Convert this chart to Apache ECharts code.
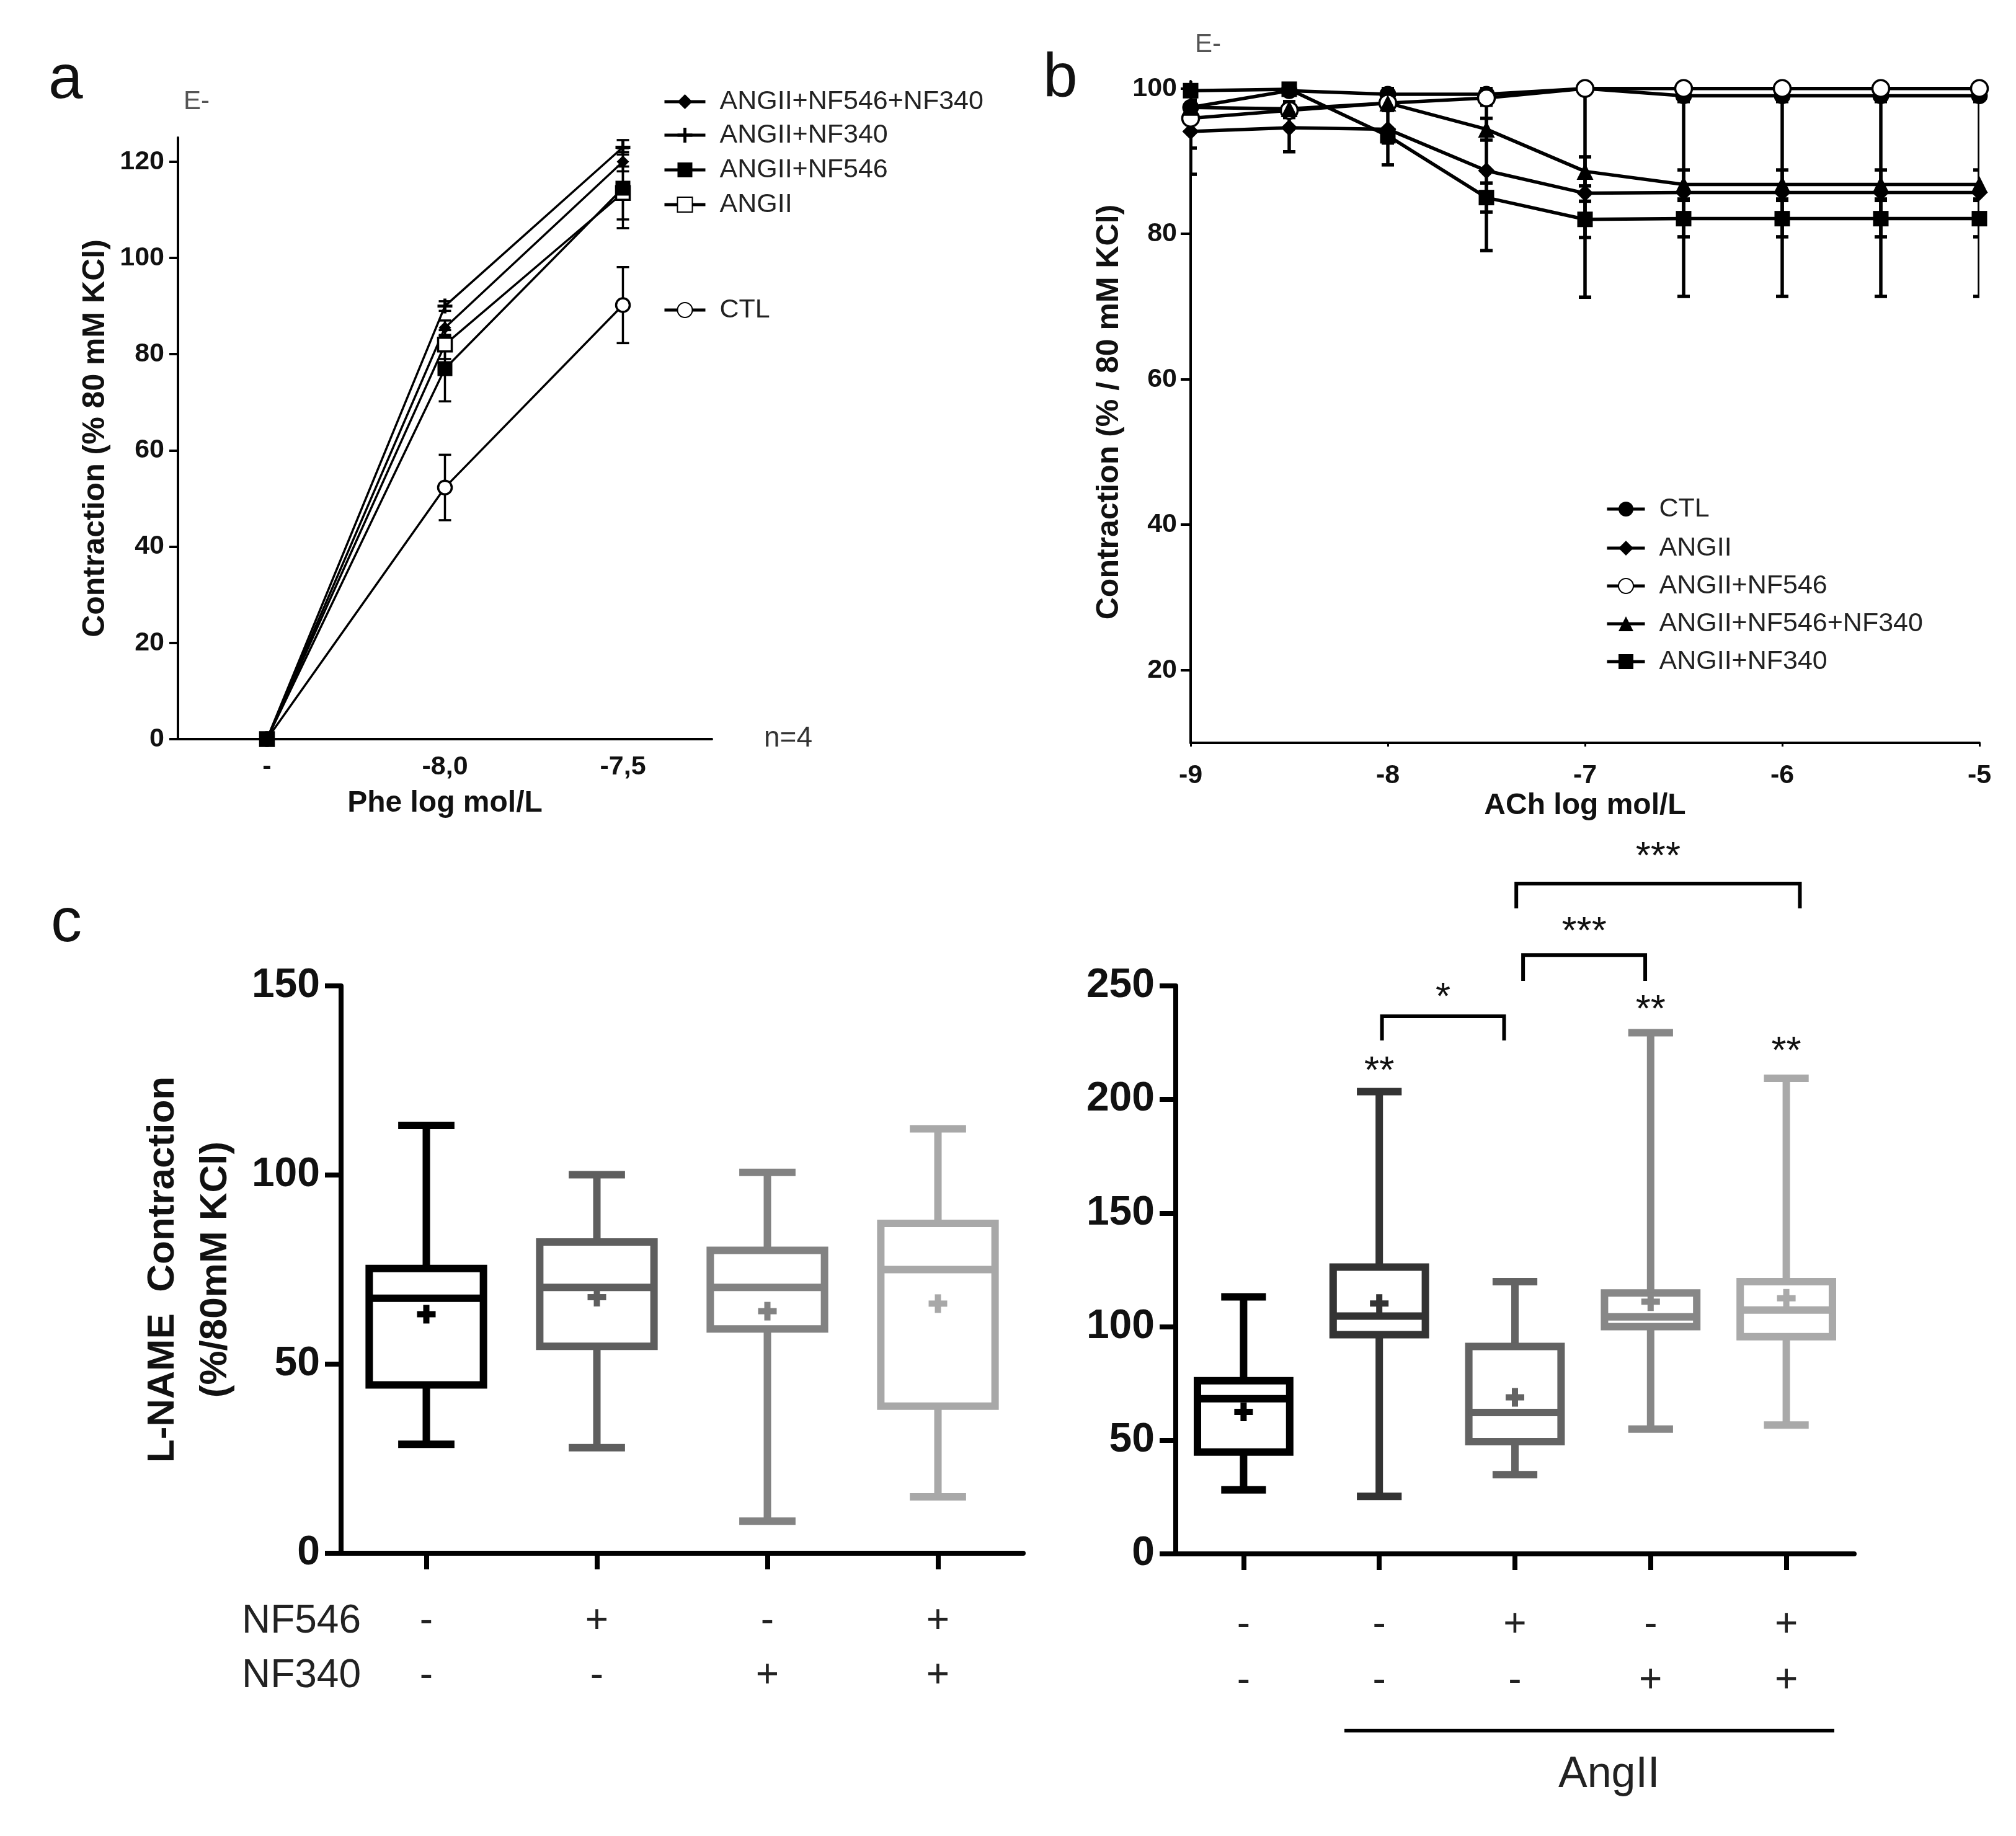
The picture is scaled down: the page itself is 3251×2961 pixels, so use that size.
<!DOCTYPE html>
<html>
<head>
<meta charset="utf-8">
<script src="https://cdn.jsdelivr.net/npm/echarts@6/dist/echarts.min.js"></script>
<style>
html, body { margin: 0; padding: 0; background: #fff; }
#main { width: 3251px; height: 2961px; }
</style>
</head>
<body>
<div id="main"></div>
<script>
var FONT = '"Liberation Sans", Arial, sans-serif';

// ---- panel a : Phe concentration-response
var pheCats = ['-', '-8,0', '-7,5'];
var aNF546NF340 = [0, 85.5, 120];
var aNF340 = [0, 90, 123];
var aNF546 = [0, 77, 114.5];
var aANGII = [0, 82, 113.5];
var aCTL = [0, 52.3, 90.2];
var aNF546NF340Err = [0, 1.5, 2];
var aNF340Err = [0, 1, 1.5];
var aNF546Err = [0, 6.8, 8.3];
var aANGIIErr = [0, 3, 5.5];
var aCTLErr = [0, 6.8, 7.9];

// ---- panel b : ACh concentration-response
var achX = [-9, -8.5, -8, -7.5, -7, -6.5, -6, -5.5, -5];
var bCTL = [97.4, 99.7, 99.2, 99.2, 100, 99, 99, 99, 99];
var bANGII = [94.1, 94.6, 94.4, 88.7, 85.6, 85.7, 85.7, 85.7, 85.7];
var bNF546 = [95.9, 97, 98, 98.7, 100, 100, 100, 100, 100];
var bNF546NF340 = [97.4, 97.2, 98, 94.4, 88.6, 86.8, 86.8, 86.8, 86.8];
var bNF340 = [99.7, 99.9, 93.5, 85, 82, 82.1, 82.1, 82.1, 82.1];
var bCTLErr = [1, 0.5, 0.8, 0.8, 0.5, 0.8, 0.8, 0.8, 0.8];
var bANGIIErr = [2.3, 3.3, 4.9, 11, 14.3, 14.3, 14.3, 14.3, 14.3];
var bNF546Err = [7.7, 1, 1, 1, 0.5, 0.5, 0.5, 0.5, 0.5];
var bNF546NF340Err = [1, 1, 1, 1.5, 2, 2, 2, 2, 2];
var bNF340Err = [0.5, 0.5, 1, 2, 2.5, 2.5, 2.5, 2.5, 2.5];

// ---- panel c left : L-NAME contraction, no AngII
var cLeftCats = ['-\n-', '+\n-', '-\n+', '+\n+'];
var cLMin = [28.8, 27.9, 8.5, 14.9];
var cLQ1 = [44.5, 54.7, 59.3, 38.9];
var cLMed = [67.4, 70.3, 70.3, 75];
var cLQ3 = [75.3, 82.3, 80.1, 87.2];
var cLMax = [113.1, 100.1, 100.7, 112.2];
var cLMean = [63.2, 67.7, 64, 66];

// ---- panel c right : L-NAME contraction with AngII
var cRightCats = ['-\n-', '-\n-', '+\n-', '-\n+', '+\n+'];
var cRMin = [28.2, 25.3, 34.9, 54.9, 56.7];
var cRQ1 = [44.8, 96.5, 49.4, 100, 95.6];
var cRMed = [68.3, 104.7, 62.2, 104.3, 107.3];
var cRQ3 = [76.2, 126.2, 91.3, 114.8, 119.8];
var cRMax = [113.1, 203.5, 119.8, 229.4, 209.3];
var cRMean = [62.5, 110.2, 68.9, 111, 112.5];

// significance marks (right panel)
var starIdx = [1, 3, 4];
var starY = [215.9, 242.9, 224.6];
var starText = ['**', '**', '**'];
var brX1 = [1.02, 2.06, 2.01];
var brX2 = [1.92, 2.96, 4.1];
var brTop = [236.6, 263.6, 295];
var brBot = [226, 252.2, 284.1];
var brLabelY = [248.4, 277.3, 310.3];
var brLabel = ['*', '***', '***'];

var leftColors = ['#000000', '#5e5e5e', '#828282', '#a8a8a8'];
var rightColors = ['#000000', '#333333', '#636363', '#878787', '#a9a9a9'];

var PLUS = 'path://M8,0h4v8h8v4h-8v8h-4v-8h-8v-4h8z';

var dom = document.getElementById('main');
var chart = echarts.init(dom);

function zip(xs, ys) {
    return xs.map(function (x, i) { return [x, ys[i]]; });
}
function errData(xs, ys, es) {
    return xs.map(function (x, i) { return [x, ys[i], es[i]]; });
}
function stripName(n) { return n.replace(/^b:/, ''); }

function errRender(capHalf, lw) {
    return function (params, api) {
        var x = api.value(0), m = api.value(1), e = api.value(2);
        if (!e) { return; }
        var lo = api.coord([x, m - e]);
        var hi = api.coord([x, m + e]);
        var st = function () { return { stroke: '#000', lineWidth: lw }; };
        return {
            type: 'group',
            children: [
                { type: 'line', shape: { x1: lo[0], y1: lo[1], x2: hi[0], y2: hi[1] }, style: st() },
                { type: 'line', shape: { x1: lo[0] - capHalf, y1: lo[1], x2: lo[0] + capHalf, y2: lo[1] }, style: st() },
                { type: 'line', shape: { x1: hi[0] - capHalf, y1: hi[1], x2: hi[0] + capHalf, y2: hi[1] }, style: st() }
            ]
        };
    };
}

function boxRender(colors, boxFrac, capFrac, lw) {
    return function (params, api) {
        var i = api.value(0);
        var pMin = api.coord([i, api.value(1)]);
        var pQ1 = api.coord([i, api.value(2)]);
        var pMed = api.coord([i, api.value(3)]);
        var pQ3 = api.coord([i, api.value(4)]);
        var pMax = api.coord([i, api.value(5)]);
        var pMean = api.coord([i, api.value(6)]);
        var band = api.size([1, 0])[0];
        var cx = pMin[0], hw = band * boxFrac / 2, hc = band * capFrac / 2;
        var col = colors[params.dataIndex];
        function ln(x1, y1, x2, y2) {
            return { type: 'line', shape: { x1: x1, y1: y1, x2: x2, y2: y2 }, style: { stroke: col, lineWidth: lw } };
        }
        var ps = 15, pt = 10;
        return {
            type: 'group',
            children: [
                ln(cx, pQ3[1], cx, pMax[1]),
                ln(cx, pQ1[1], cx, pMin[1]),
                ln(cx - hc, pMax[1], cx + hc, pMax[1]),
                ln(cx - hc, pMin[1], cx + hc, pMin[1]),
                { type: 'rect', shape: { x: cx - hw, y: pQ3[1], width: 2 * hw, height: pQ1[1] - pQ3[1] },
                  style: { stroke: col, lineWidth: lw, fill: '#fff' } },
                ln(cx - hw, pMed[1], cx + hw, pMed[1]),
                { type: 'rect', shape: { x: pMean[0] - ps, y: pMean[1] - pt / 2, width: 2 * ps, height: pt }, style: { fill: col } },
                { type: 'rect', shape: { x: pMean[0] - pt / 2, y: pMean[1] - ps, width: pt, height: 2 * ps }, style: { fill: col } }
            ]
        };
    };
}

function boxData(mn, q1, md, q3, mx, mean) {
    return mn.map(function (v, i) { return [i, v, q1[i], md[i], q3[i], mx[i], mean[i]]; });
}

function catX(api, v) {
    var k = Math.floor(v);
    return api.coord([k, 0])[0] + (v - k) * api.size([1, 0])[0];
}

function bracketRender(params, api) {
    var i = params.dataIndex;
    var xa = catX(api, brX1[i]), xb = catX(api, brX2[i]);
    var yt = api.coord([0, brTop[i]])[1], yb = api.coord([0, brBot[i]])[1];
    var yl = api.coord([0, brLabelY[i]])[1];
    return {
        type: 'group',
        children: [
            { type: 'polyline', shape: { points: [[xa, yb], [xa, yt], [xb, yt], [xb, yb]] },
              style: { stroke: '#000', lineWidth: 6, fill: null } },
            { type: 'text', style: { text: brLabel[i], x: (xa + xb) / 2, y: yl + 14, align: 'center', verticalAlign: 'middle',
              font: '62px ' + FONT, fill: '#111' } }
        ]
    };
}

function starRender(params, api) {
    var i = params.dataIndex;
    var p = api.coord([starIdx[i], starY[i]]);
    return { type: 'text', style: { text: starText[i], x: p[0], y: p[1] + 14, align: 'center', verticalAlign: 'middle',
             font: '62px ' + FONT, fill: '#111' } };
}

function lineSeries(name, xi, data, symbol, size, fill, lw) {
    return {
        name: name, type: 'line', xAxisIndex: xi, yAxisIndex: xi, data: data,
        symbol: symbol, symbolSize: size, showAllSymbol: true,
        lineStyle: { color: '#000', width: lw },
        itemStyle: { color: fill, borderColor: '#000', borderWidth: fill === '#fff' ? 3.5 : 0 },
        emphasis: { disabled: true }, z: 3
    };
}

function legendItem(name, left, cy, iw) {
    return {
        data: [name], left: left, top: cy - 22, orient: 'vertical', padding: 0,
        itemWidth: iw, itemHeight: 30, selectedMode: false, formatter: stripName,
        lineStyle: { width: 5, color: '#000' },
        textStyle: { fontSize: 43, fontFamily: FONT, color: '#222', lineHeight: 44, padding: [0, 0, 0, 18] }
    };
}

var tickLabelA = { fontSize: 43, fontWeight: 'bold', fontFamily: FONT, color: '#111' };

var option = {
    backgroundColor: '#fff',
    animation: false,
    grid: [
        { left: 287, top: 222, width: 861, height: 970 },
        { left: 1920, top: 131, width: 1272, height: 1067 },
        { left: 550, top: 1590, width: 1100, height: 915 },
        { left: 1896, top: 1590, width: 1094, height: 916 }
    ],
    xAxis: [
        {
            gridIndex: 0, type: 'category', data: pheCats, boundaryGap: true,
            name: 'Phe log mol/L', nameLocation: 'middle', nameGap: 80,
            nameTextStyle: { fontSize: 48, fontWeight: 'bold', fontFamily: FONT, color: '#111' },
            axisLine: { lineStyle: { color: '#000', width: 4 } },
            axisTick: { show: false },
            axisLabel: Object.assign({ margin: 24 }, tickLabelA),
            splitLine: { show: false }
        },
        {
            gridIndex: 1, type: 'value', min: -9, max: -5, interval: 1,
            name: 'ACh log mol/L', nameLocation: 'middle', nameGap: 78,
            nameTextStyle: { fontSize: 48, fontWeight: 'bold', fontFamily: FONT, color: '#111' },
            axisLine: { lineStyle: { color: '#000', width: 4 } },
            axisTick: { show: true, length: 6, lineStyle: { width: 3, color: '#000' } },
            axisLabel: Object.assign({ margin: 32 }, tickLabelA),
            splitLine: { show: false }
        },
        {
            gridIndex: 2, type: 'category', data: cLeftCats, boundaryGap: true,
            axisLine: { lineStyle: { color: '#000', width: 8 } },
            axisTick: { show: true, alignWithLabel: true, length: 26, lineStyle: { width: 8, color: '#000' } },
            axisLabel: { margin: 66, fontSize: 64, fontFamily: FONT, color: '#222', lineHeight: 88 },
            splitLine: { show: false }
        },
        {
            gridIndex: 3, type: 'category', data: cRightCats, boundaryGap: true,
            axisLine: { lineStyle: { color: '#000', width: 8 } },
            axisTick: { show: true, alignWithLabel: true, length: 26, lineStyle: { width: 8, color: '#000' } },
            axisLabel: { margin: 70, fontSize: 64, fontFamily: FONT, color: '#222', lineHeight: 90 },
            splitLine: { show: false }
        }
    ],
    yAxis: [
        {
            gridIndex: 0, type: 'value', min: 0, max: 125,
            name: 'Contraction (% 80 mM KCl)', nameLocation: 'middle', nameGap: 108,
            nameTextStyle: { fontSize: 50, fontWeight: 'bold', fontFamily: FONT, color: '#111' },
            axisLine: { show: true, lineStyle: { color: '#000', width: 4 } },
            axisTick: { show: true, length: 14, customValues: [0, 20, 40, 60, 80, 100, 120], lineStyle: { width: 4, color: '#000' } },
            axisLabel: Object.assign({ margin: 22, customValues: [0, 20, 40, 60, 80, 100, 120],
                formatter: function (v) { return v % 20 === 0 ? String(v) : ''; } }, tickLabelA),
            splitLine: { show: false }
        },
        {
            gridIndex: 1, type: 'value', min: 10, max: 101,
            name: 'Contraction (% / 80 mM KCl)', nameLocation: 'middle', nameGap: 106,
            nameTextStyle: { fontSize: 50, fontWeight: 'bold', fontFamily: FONT, color: '#111' },
            axisLine: { show: true, lineStyle: { color: '#000', width: 4 } },
            axisTick: { show: true, length: 16, customValues: [20, 40, 60, 80, 100], lineStyle: { width: 4, color: '#000' } },
            axisLabel: Object.assign({ margin: 22, customValues: [20, 40, 60, 80, 100],
                formatter: function (v) { return v % 20 === 0 && v > 0 ? String(v) : ''; } }, tickLabelA),
            splitLine: { show: false }
        },
        {
            gridIndex: 2, type: 'value', min: 0, max: 150, interval: 50,
            name: 'L-NAME  Contraction\n(%/80mM KCl)', nameLocation: 'middle', nameGap: 160,
            nameTextStyle: { fontSize: 62, fontWeight: 'bold', fontFamily: FONT, color: '#111', lineHeight: 85 },
            axisLine: { show: true, lineStyle: { color: '#000', width: 8 } },
            axisTick: { show: true, length: 26, lineStyle: { width: 8, color: '#000' } },
            axisLabel: { margin: 34, fontSize: 66, fontWeight: 'bold', fontFamily: FONT, color: '#111' },
            splitLine: { show: false }
        },
        {
            gridIndex: 3, type: 'value', min: 0, max: 250, interval: 50,
            axisLine: { show: true, lineStyle: { color: '#000', width: 8 } },
            axisTick: { show: true, length: 26, lineStyle: { width: 8, color: '#000' } },
            axisLabel: { margin: 34, fontSize: 66, fontWeight: 'bold', fontFamily: FONT, color: '#111' },
            splitLine: { show: false }
        }
    ],
    legend: [
        legendItem('ANGII+NF546+NF340', 1069, 164, 66),
        legendItem('ANGII+NF340', 1069, 218, 66),
        legendItem('ANGII+NF546', 1069, 274, 66),
        legendItem('ANGII', 1069, 330, 66),
        legendItem('CTL', 1069, 500, 66),
        legendItem('b:CTL', 2589, 821, 61),
        legendItem('b:ANGII', 2589, 884, 61),
        legendItem('b:ANGII+NF546', 2589, 945, 61),
        legendItem('b:ANGII+NF546+NF340', 2589, 1006, 61),
        legendItem('b:ANGII+NF340', 2589, 1067, 61)
    ],
    series: [
        // panel a error bars
        { type: 'custom', xAxisIndex: 0, yAxisIndex: 0, renderItem: errRender(10, 3.5), z: 2,
          data: errData([0, 1, 2], aCTL, aCTLErr)
              .concat(errData([0, 1, 2], aNF546, aNF546Err))
              .concat(errData([0, 1, 2], aANGII, aANGIIErr))
              .concat(errData([0, 1, 2], aNF340, aNF340Err))
              .concat(errData([0, 1, 2], aNF546NF340, aNF546NF340Err)) },
        lineSeries('CTL', 0, aCTL, 'circle', 22, '#fff', 3.5),
        lineSeries('ANGII', 0, aANGII, 'rect', 22, '#fff', 3.5),
        lineSeries('ANGII+NF546', 0, aNF546, 'rect', 24, '#000', 3.5),
        lineSeries('ANGII+NF340', 0, aNF340, PLUS, 24, '#000', 3.5),
        lineSeries('ANGII+NF546+NF340', 0, aNF546NF340, 'diamond', 20, '#000', 3.5),

        // panel b error bars
        { type: 'custom', xAxisIndex: 1, yAxisIndex: 1, renderItem: errRender(10, 5.5), z: 2, clip: true,
          data: errData(achX, bANGII, bANGIIErr)
              .concat(errData(achX, bNF340, bNF340Err))
              .concat(errData(achX, bNF546, bNF546Err))
              .concat(errData(achX, bNF546NF340, bNF546NF340Err))
              .concat(errData(achX, bCTL, bCTLErr)) },
        lineSeries('b:CTL', 1, zip(achX, bCTL), 'circle', 27, '#000', 5.5),
        lineSeries('b:ANGII', 1, zip(achX, bANGII), 'diamond', 27, '#000', 5.5),
        lineSeries('b:ANGII+NF546', 1, zip(achX, bNF546), 'circle', 27, '#fff', 5.5),
        lineSeries('b:ANGII+NF546+NF340', 1, zip(achX, bNF546NF340), 'triangle', 27, '#000', 5.5),
        lineSeries('b:ANGII+NF340', 1, zip(achX, bNF340), 'rect', 25, '#000', 5.5),

        // panel c boxes
        { type: 'custom', xAxisIndex: 2, yAxisIndex: 2, renderItem: boxRender(leftColors, 0.67, 0.33, 12),
          data: boxData(cLMin, cLQ1, cLMed, cLQ3, cLMax, cLMean) },
        { type: 'custom', xAxisIndex: 3, yAxisIndex: 3, renderItem: boxRender(rightColors, 0.68, 0.33, 12),
          data: boxData(cRMin, cRQ1, cRMed, cRQ3, cRMax, cRMean) },
        { type: 'custom', xAxisIndex: 3, yAxisIndex: 3, renderItem: starRender, clip: false,
          data: starIdx.map(function (v, i) { return [v, starY[i]]; }) },
        { type: 'custom', xAxisIndex: 3, yAxisIndex: 3, renderItem: bracketRender, clip: false,
          data: brX1.map(function (v, i) { return [v, brTop[i]]; }) }
    ],
    graphic: [
        { type: 'text', left: 78, top: 80, style: { text: 'a', font: '100px ' + FONT, fill: '#111' } },
        { type: 'text', left: 1682, top: 78, style: { text: 'b', font: '100px ' + FONT, fill: '#111' } },
        { type: 'text', left: 82, top: 1440, style: { text: 'c', font: '100px ' + FONT, fill: '#111' } },
        { type: 'text', left: 296, top: 143, style: { text: 'E-', font: '42px ' + FONT, fill: '#555' } },
        { type: 'text', left: 1927, top: 51, style: { text: 'E-', font: '42px ' + FONT, fill: '#555' } },
        { type: 'text', left: 1232, top: 1168, style: { text: 'n=4', font: '46px ' + FONT, fill: '#333' } },
        { type: 'text', right: 3251 - 582, top: 2583, style: { text: 'NF546', font: '64px ' + FONT, fill: '#222' } },
        { type: 'text', right: 3251 - 582, top: 2671, style: { text: 'NF340', font: '64px ' + FONT, fill: '#222' } },
        { type: 'line', shape: { x1: 2168, y1: 2791, x2: 2958, y2: 2791 }, style: { stroke: '#000', lineWidth: 6 } },
        { type: 'text', left: 2513, top: 2828, style: { text: 'AngII', font: '70px ' + FONT, fill: '#222' } }
    ]
};

chart.setOption(option);
</script>
</body>
</html>
